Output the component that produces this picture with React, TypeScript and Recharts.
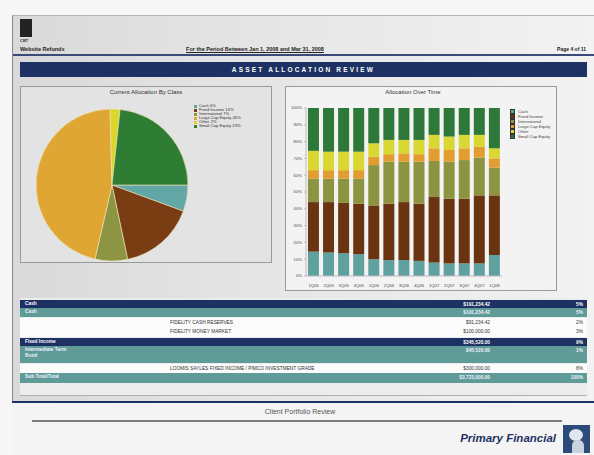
import React from 'react';
import { PieChart, Pie, Cell, Legend, BarChart, Bar, XAxis, YAxis } from 'recharts';

const classNames = ['Cash', 'Fixed Income', 'International', 'Large Cap Equity', 'Other', 'Small Cap Equity'];
const pieColors = ['#62a6a6', '#7a3c12', '#8b9542', '#e0a634', '#dcd52a', '#2f7c35'];
const currentAllocation = [5.6, 16.1, 6.9, 46, 2.1, 23.3];

const periods = ['1Q05', '2Q05', '3Q05', '4Q05', '1Q06', '2Q06', '3Q06', '4Q06', '1Q07', '2Q07', '3Q07', '4Q07', '1Q08'];
const cashSeries = [14.5, 14, 13.5, 13, 10, 9.5, 9.5, 9, 8, 7.5, 7.5, 7.5, 12.5];
const fixedSeries = [29.5, 30, 30, 30, 32, 33.5, 34.5, 34, 39, 38.5, 38.5, 40.5, 35.5];
const intlSeries = [14, 14, 14.5, 15, 24, 25, 24, 25, 21.5, 22, 23, 22.5, 16.5];
const largeSeries = [5, 5, 5, 5, 5, 4.5, 5, 4.5, 7.5, 7, 7, 6.5, 5.5];
const otherSeries = [11.5, 11, 11, 11, 8, 8.5, 8, 8.5, 8, 8, 8, 7, 6];
const smallSeries = [25.5, 26, 26, 26, 21, 19, 19, 19, 16, 17, 16, 16, 24];
const barColors = ['#5fa19f', '#6b3411', '#8c9441', '#e39c30', '#d9d832', '#2e783a'];
const yTicks = [0, 10, 20, 30, 40, 50, 60, 70, 80, 90, 100];

const seriesKeys = ['cash', 'fixed', 'intl', 'large', 'other', 'small'];
const seriesValues = [cashSeries, fixedSeries, intlSeries, largeSeries, otherSeries, smallSeries];

const pieData = classNames.map((n, i) => ({ name: n, value: currentAllocation[i] }));
const barData = periods.map((p, i) => {
  const row: any = { period: p };
  seriesKeys.forEach((k, j) => { row[k] = seriesValues[j][i]; });
  return row;
});

const navy = '#1e3163';
const teal = '#5f9c98';
const font = '"Liberation Sans", Arial, sans-serif';

const abs = (l: number, t: number, w: number, h: number, extra: any = {}) => ({
  position: 'absolute' as const, left: l, top: t, width: w, height: h, ...extra,
});

const PieLegend = () => (
  <div style={{ fontFamily: font, fontSize: 4.2, color: '#333', lineHeight: '4px' }}>
    {classNames.map((n, i) => (
      <div key={n} style={{ display: 'flex', alignItems: 'center', height: 4 }}>
        <span style={{ width: 3, height: 3, background: pieColors[i], marginRight: 2, display: 'inline-block' }} />
        <span>{n} {Math.round(currentAllocation[i])}%</span>
      </div>
    ))}
  </div>
);

const BarLegend = () => (
  <div style={{ fontFamily: font, fontSize: 4.2, color: '#444', lineHeight: '5px' }}>
    {classNames.map((n, i) => (
      <div key={n} style={{ display: 'flex', alignItems: 'center', height: 5 }}>
        <span style={{ width: 3, height: 3, background: barColors[i], border: '0.5px solid #333', marginRight: 3, display: 'inline-block' }} />
        <span>{n}</span>
      </div>
    ))}
  </div>
);

type Row = { kind: 'head' | 'sub' | 'item' | 'total'; a: string; b?: string; v: string; p: string; top: number; h: number };
const tableRows: Row[] = [
  { kind: 'head', a: 'Cash', v: '$191,234.42', p: '5%', top: 300, h: 8 },
  { kind: 'sub', a: 'Cash', v: '$191,234.42', p: '5%', top: 308, h: 9 },
  { kind: 'item', a: '', b: 'FIDELITY CASH RESERVES', v: '$91,234.42', p: '2%', top: 318, h: 9 },
  { kind: 'item', a: '', b: 'FIDELITY MONEY MARKET', v: '$100,000.00', p: '3%', top: 327, h: 10 },
  { kind: 'head', a: 'Fixed Income', v: '$345,520.00', p: '9%', top: 338, h: 8 },
  { kind: 'sub', a: 'Intermediate Term\nBond', v: '$45,520.00', p: '1%', top: 346, h: 17 },
  { kind: 'item', a: '', b: 'LOOMIS SAYLES FIXED INCOME / PIMCO INVESTMENT GRADE', v: '$300,000.00', p: '8%', top: 364, h: 9 },
  { kind: 'total', a: 'Sub Total/Total', v: '$3,723,000.00', p: '100%', top: 373, h: 10 },
];

export default function App() {
  return (
    <div style={{ position: 'absolute', left: 0, top: 0, width: 594, height: 455, overflow: 'hidden', background: '#f7f7f7', fontFamily: font }}>
      {/* page */}
      <div style={abs(12, 15, 582, 440, { background: 'linear-gradient(90deg,#d9d9d9 0%,#e6e6e6 45%,#f2f2f2 100%)', borderLeft: '1px solid #8a8a8a', borderTop: '1px solid #b5b5b5' })} />
      {/* logo */}
      <div style={abs(20, 19, 12, 18, { background: '#222' })} />
      <div style={abs(20, 38, 14, 5, { fontSize: 4, color: '#333', fontWeight: 700 })}>CBT</div>
      {/* header texts */}
      <div style={abs(20, 46, 90, 7, { fontSize: 5.5, fontWeight: 700, color: '#222', whiteSpace: 'nowrap' })}>Website Refunds</div>
      <div style={abs(150, 46, 210, 7, { fontSize: 5.5, fontWeight: 700, color: '#222', textAlign: 'center', whiteSpace: 'nowrap', textDecoration: 'underline' })}>For the Period Between Jan 1, 2008 and Mar 31, 2008</div>
      <div style={abs(540, 46, 46, 7, { fontSize: 5, fontWeight: 700, color: '#222', textAlign: 'right', whiteSpace: 'nowrap' })}>Page 4 of 11</div>
      <div style={abs(13, 54, 581, 2, { background: '#3b4a78' })} />
      {/* banner */}
      <div style={abs(20, 62, 567, 15, { background: navy, color: '#fff', fontSize: 6.5, fontWeight: 700, letterSpacing: 2.2, textAlign: 'center', lineHeight: '15px' })}>ASSET ALLOCATION REVIEW</div>

      {/* pie panel */}
      <div style={abs(20, 86, 252, 177, { background: '#e3e3e3', border: '1px solid #9a9a9a', boxSizing: 'border-box' })} />
      <div style={abs(20, 89, 252, 8, { fontSize: 6, color: '#333', textAlign: 'center' })}>Current Allocation By Class</div>
      <div style={abs(20, 86, 252, 177)}>
        <PieChart width={252} height={177}>
          <Pie data={pieData} dataKey="value" nameKey="name" cx={87} cy={94} outerRadius={76} startAngle={0} endAngle={-360} stroke="#efe6b8" strokeWidth={0.6} isAnimationActive={false}>
            {pieData.map((d, i) => <Cell key={d.name} fill={pieColors[i]} />)}
          </Pie>
          <Legend content={() => <PieLegend />} layout="vertical" verticalAlign="top" align="right" wrapperStyle={{ position: 'absolute', left: 174, top: 18, width: 70 }} />
        </PieChart>
      </div>

      {/* bar panel */}
      <div style={abs(285, 86, 272, 205, { background: '#f3f3f3', border: '1px solid #9a9a9a', boxSizing: 'border-box' })} />
      <div style={abs(285, 89, 256, 8, { fontSize: 6, color: '#333', textAlign: 'center' })}>Allocation Over Time</div>
      <div style={abs(285, 87, 272, 204)}>
        <BarChart width={272} height={204} data={barData} margin={{ top: 21, right: 10, bottom: 2, left: 0 }} barCategoryGap="13%">
          <XAxis dataKey="period" height={13} tick={{ fontSize: 4.2, fill: '#444' }} tickLine={false} axisLine={{ stroke: '#bbb' }} interval={0} />
          <YAxis width={21} domain={[0, 100]} ticks={yTicks} tickFormatter={(v: number) => v + '%'} tick={{ fontSize: 4.2, fill: '#444' }} tickSize={2} axisLine={{ stroke: '#bbb' }} tickLine={{ stroke: '#bbb' }} />
          {seriesKeys.map((k, i) => (
            <Bar key={k} dataKey={k} name={classNames[i]} stackId="a" fill={barColors[i]} isAnimationActive={false} />
          ))}
          <Legend content={() => <BarLegend />} layout="vertical" verticalAlign="top" align="right" wrapperStyle={{ position: 'absolute', left: 225, top: 22, width: 45 }} />
        </BarChart>
      </div>

      {/* table area */}
      <div style={abs(20, 298, 567, 97, { background: '#ececec', borderBottom: '1px solid #b0b0b0' })} />
      {tableRows.map((r, i) => {
        const bg = r.kind === 'head' ? navy : r.kind === 'item' ? '#fbfbfb' : teal;
        const col = r.kind === 'head' ? '#fff' : r.kind === 'item' ? '#333' : '#eef';
        const bold = r.kind !== 'item';
        return (
          <div key={i} style={abs(20, r.top, 567, r.h, { background: bg, color: col, fontSize: 4.8, fontWeight: bold ? 700 : 400 })}>
            <div style={{ position: 'absolute', left: 5, top: 1, whiteSpace: 'pre', lineHeight: '6px' }}>{r.a}</div>
            {r.b ? <div style={{ position: 'absolute', left: 150, top: 2, whiteSpace: 'nowrap' }}>{r.b}</div> : null}
            <div style={{ position: 'absolute', left: 400, width: 70, textAlign: 'right', top: 2 }}>{r.v}</div>
            <div style={{ position: 'absolute', left: 530, width: 33, textAlign: 'right', top: 2 }}>{r.p}</div>
          </div>
        );
      })}

      {/* footer */}
      <div style={abs(12, 401, 582, 2, { background: navy })} />
      <div style={abs(12, 403, 582, 52, { background: '#f4f4f4' })} />
      <div style={abs(150, 408, 300, 9, { fontSize: 7, color: '#555', textAlign: 'center' })}>Client Portfolio Review</div>
      <div style={abs(32, 420, 530, 2, { background: '#7a7a7a' })} />
      <div style={abs(420, 432, 136, 14, { fontSize: 11.5, fontWeight: 700, fontStyle: 'italic', color: navy, textAlign: 'right', whiteSpace: 'nowrap' })}>Primary Financial</div>
      <div style={abs(563, 425, 27, 28, { background: '#2c4a7a', overflow: 'hidden' })}>
        <div style={abs(6, 4, 14, 12, { background: '#dfe6ee', borderRadius: '50%' })} />
        <div style={abs(9, 15, 12, 14, { background: '#c9d3de', borderRadius: '40% 40% 0 0' })} />
      </div>
    </div>
  );
}
